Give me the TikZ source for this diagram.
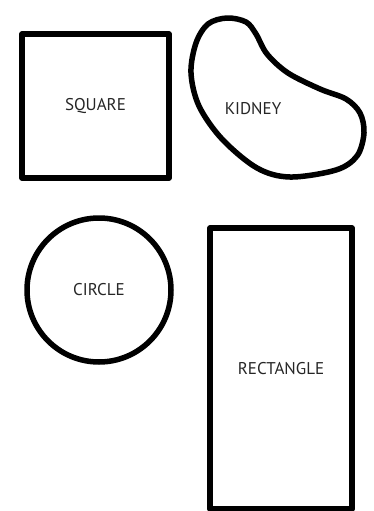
\documentclass[tikz,border=0pt]{standalone}
\usepackage{fontspec}
\setmainfont{PT Sans}
\usepackage{tikz}
\usetikzlibrary{positioning}

\begin{document}
\begin{tikzpicture}[
    x=1pt, y=-1pt,
    outline/.style={draw, line width=5.5pt, line join=round},
    shapebox/.style={outline, inner sep=0pt, text=black!85, font=\fontsize{17}{20}\selectfont},
    lbl/.style={text=black!85, font=\fontsize{17}{20}\selectfont}
]
\useasboundingbox (0,0) rectangle (373,511);
\node[shapebox, minimum width=147pt, minimum height=144pt] (square) at (95.5,106) {SQUARE};
\node[shapebox, circle, minimum size=144pt] (circ) at (99,290) {CIRCLE};
\node[shapebox, minimum width=142pt, minimum height=281pt] (rect) at (281,368.5) {RECTANGLE};

% kidney outline
\draw[outline] plot[smooth cycle, tension=0.55] coordinates {
    (227,18) (246,22) (256,34) (267,54) (288,73) (320,89) (346,99)
    (360,113) (364,133) (357,156) (336,170) (290,177) (257,168)
    (222,139) (199,106) (191,73) (196,43) (208,24)};
\node[lbl] (kidney) at (253,109) {KIDNEY};
\end{tikzpicture}
\end{document}
